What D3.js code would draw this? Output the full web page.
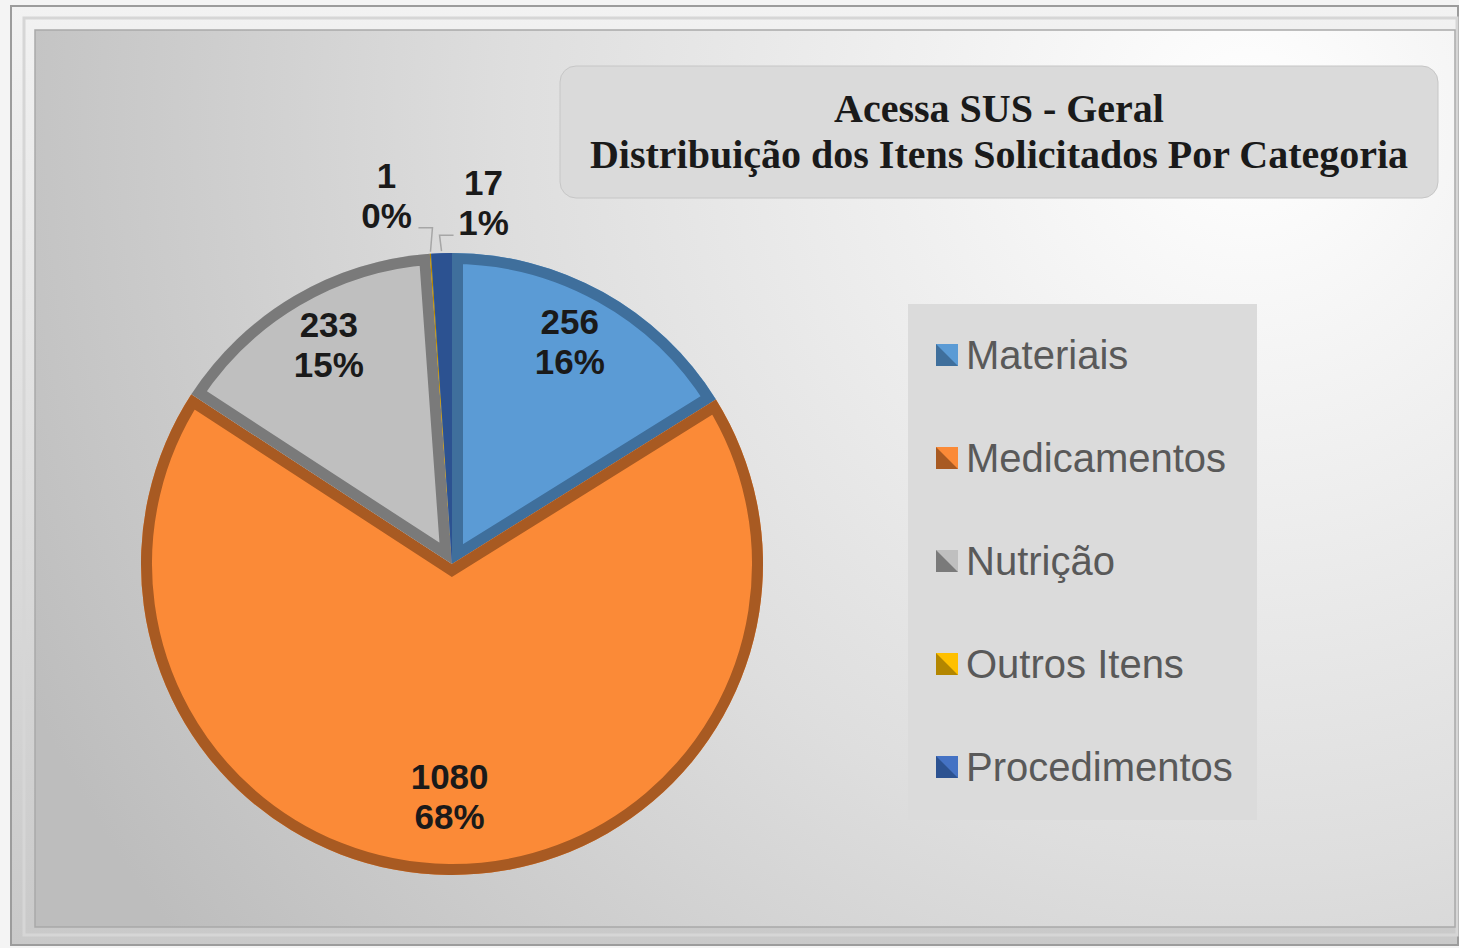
<!DOCTYPE html>
<html>
<head>
<meta charset="utf-8">
<script src="https://cdn.jsdelivr.net/npm/d3@7"></script>
<style>
  body { margin: 0; background: #f4f4f4; }
  svg { display: block; }
</style>
</head>
<body>
<svg id="chart" width="1459" height="948"></svg>
<script>
// data
const categories = ["Materiais", "Medicamentos", "Nutrição", "Outros Itens", "Procedimentos"];
const counts = [256, 1080, 233, 1, 17];
const faceColors = ["#5b9bd5", "#fb8a37", "#bfbfbf", "#ffc000", "#4472c4"];
const edgeColors = ["#3f6f9c", "#a85a22", "#7a7a7a", "#b38600", "#2c5291"];
const titleLines = ["Acessa SUS - Geral", "Distribuição dos Itens Solicitados Por Categoria"];

const svg = d3.select("#chart");
const W = 1459, H = 948;
const defs = svg.append("defs");

// background gradients
const bg = defs.append("radialGradient").attr("id", "bg")
  .attr("gradientUnits", "userSpaceOnUse")
  .attr("cx", 1250).attr("cy", 120).attr("r", 1350);
bg.append("stop").attr("offset", "0%").attr("stop-color", "#ffffff");
bg.append("stop").attr("offset", "55%").attr("stop-color", "#dedede");
bg.append("stop").attr("offset", "100%").attr("stop-color", "#bdbdbd");

const frame = defs.append("linearGradient").attr("id", "frame")
  .attr("x1", 0).attr("y1", 0).attr("x2", 0).attr("y2", 1);
frame.append("stop").attr("offset", "0%").attr("stop-color", "#f2f2f2");
frame.append("stop").attr("offset", "100%").attr("stop-color", "#c9c9c9");

// frame
svg.append("rect").attr("x", 11).attr("y", 6).attr("width", W - 12).attr("height", 939)
  .attr("fill", "url(#frame)").attr("stroke", "#9c9c9c").attr("stroke-width", 2);
svg.append("rect").attr("x", 24).attr("y", 18).attr("width", W - 26).attr("height", 917)
  .attr("fill", "none").attr("stroke", "#d6d6d6").attr("stroke-width", 3);
svg.append("rect").attr("x", 35).attr("y", 30).attr("width", 1420).attr("height", 897)
  .attr("fill", "url(#bg)").attr("stroke", "#a9a9a9").attr("stroke-width", 1.5);

// title box
svg.append("rect").attr("x", 560).attr("y", 66).attr("width", 878).attr("height", 132)
  .attr("rx", 16).attr("fill", "#dadada").attr("stroke", "#c6c6c6");
svg.append("text")
  .attr("x", 999).attr("y", 122)
  .attr("text-anchor", "middle")
  .style("font-family", "'Liberation Serif', 'Times New Roman', serif")
  .style("font-weight", "bold").style("font-size", "40px").attr("fill", "#1a1a1a")
  .selectAll("tspan").data(titleLines).join("tspan")
  .attr("x", 999).attr("dy", (d, i) => i === 0 ? 0 : 46)
  .text(d => d);

// pie
const cx = 452, cy = 564, R = 311;
const total = d3.sum(counts);
const slices = d3.pie().sort(null).value(d => d.value)(categories.map((c, i) => ({ name: c, value: counts[i], i })));
const arc = d3.arc().innerRadius(0).outerRadius(R);
const labelArc = d3.arc().innerRadius(0.78 * R).outerRadius(0.78 * R);

const pie = svg.append("g").attr("transform", `translate(${cx},${cy})`);

slices.forEach((s, k) => {
  defs.append("clipPath").attr("id", "clip" + k)
    .append("path").attr("d", arc(s));
});

const g = pie.selectAll("g.slice").data(slices).join("g").attr("class", "slice");
g.append("path")
  .attr("d", arc)
  .attr("fill", d => faceColors[d.data.i]);
g.append("path")
  .attr("d", arc)
  .attr("fill", "none")
  .attr("stroke", d => edgeColors[d.data.i])
  .attr("stroke-width", 22)
  .attr("stroke-linejoin", "miter")
  .attr("clip-path", (d, k) => `url(#clip${k})`);

const fmtPct = d => Math.round(d.value / total * 100) + "%";
const labelFont = "'Liberation Sans', Arial, sans-serif";

// inside labels for large slices
const big = slices.filter(d => d.value / total > 0.05);
pie.selectAll("text.in").data(big).join("text")
  .attr("class", "in")
  .attr("transform", d => { const [x, y] = labelArc.centroid(d); return `translate(${x},${y})`; })
  .attr("text-anchor", "middle")
  .style("font-family", labelFont).style("font-weight", "bold").style("font-size", "35px")
  .attr("fill", "#1a1a1a")
  .selectAll("tspan").data(d => [d.value, fmtPct(d.data)]).join("tspan")
  .attr("x", 0).attr("y", (d, i) => i === 0 ? -18 : 22)
  .text(d => d);

// outside labels for the tiny slices
const small = slices.filter(d => d.value / total <= 0.05);
small.forEach(d => {
  const a = (d.startAngle + d.endAngle) / 2;
  const px = R * Math.sin(a), py = -R * Math.cos(a);
  const left = a < 2 * Math.PI - 0.045; // outros goes to the left, procedimentos to the right
  const dir = left ? -1 : 1;
  const ly = py - (left ? 26 : 18);
  pie.append("path")
    .attr("d", `M${px},${py - 2} L${px - dir * 2},${ly} L${px + dir * 12},${ly}`)
    .attr("fill", "none").attr("stroke", "#a6a6a6").attr("stroke-width", 1.5);
  const t = pie.append("text")
    .attr("text-anchor", "middle")
    .style("font-family", labelFont).style("font-weight", "bold").style("font-size", "35px")
    .attr("fill", "#1a1a1a");
  const tx = px + dir * (left ? 44 : 42);
  t.append("tspan").attr("x", tx).attr("y", ly - 40).text(d.value);
  t.append("tspan").attr("x", tx).attr("y", ly).text(fmtPct(d.data));
});

// legend
const lg = svg.append("g").attr("transform", "translate(908,304)");
lg.append("rect").attr("width", 349).attr("height", 516).attr("fill", "#dbdbdb");
const rows = lg.selectAll("g.item").data(categories).join("g")
  .attr("class", "item")
  .attr("transform", (d, i) => `translate(28,${51 + i * 103})`);
rows.append("rect").attr("x", 0).attr("y", -11).attr("width", 22).attr("height", 22)
  .attr("fill", (d, i) => edgeColors[i]);
rows.append("path").attr("d", "M0,-11 L22,-11 L22,11 Z")
  .attr("fill", (d, i) => faceColors[i]);
rows.append("text")
  .attr("x", 30).attr("y", 14)
  .style("font-family", labelFont).style("font-size", "40px")
  .attr("fill", "#595959")
  .text(d => d);
</script>
</body>
</html>
